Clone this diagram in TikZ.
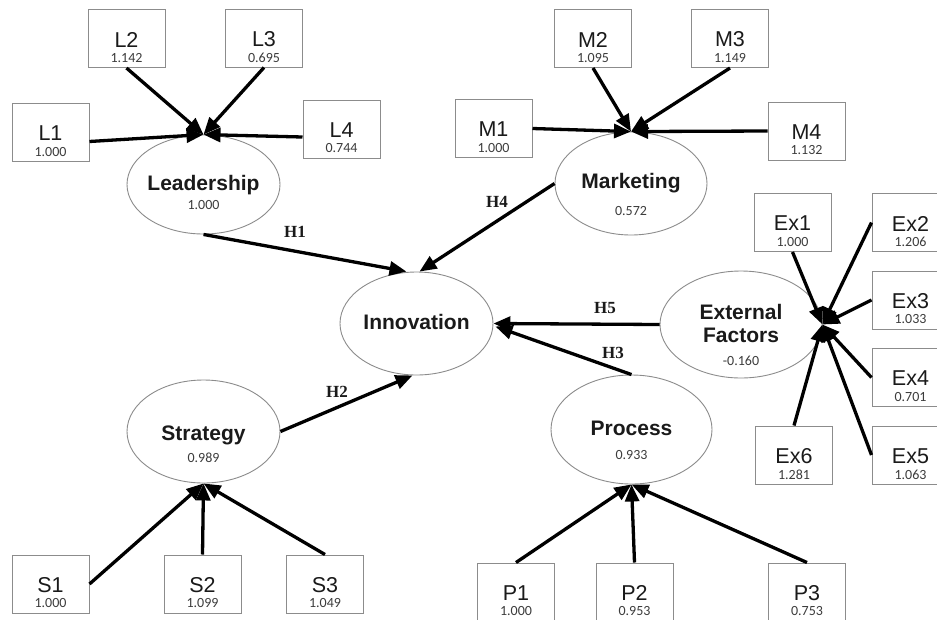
\documentclass[tikz,border=0pt]{standalone}
\usepackage{fontspec}
\setmainfont{Liberation Sans}
\newfontfamily\numfont{Carlito}
\newfontfamily\hypfont{Liberation Serif}
\usetikzlibrary{shapes.geometric,arrows.meta,calc}
\definecolor{frame}{HTML}{8C8C8C}
\definecolor{ink}{HTML}{1A1A1A}
\definecolor{numgray}{HTML}{3C3C3C}
\tikzset{
  ind/.style={draw=frame, line width=1pt, minimum width=77pt, minimum height=58pt, inner sep=0pt},
  lat/.style={ellipse, draw=frame, line width=0.9pt, inner sep=0pt},
  iname/.style={font=\fontsize{21.5}{24}\selectfont, text=ink, inner sep=0pt},
  lname/.style={font=\bfseries\fontsize{21}{24}\selectfont, text=ink, inner sep=0pt, anchor=base},
  val/.style={font=\numfont\fontsize{14}{16}\selectfont, text=numgray, inner sep=0pt},
  lval/.style={val, anchor=base},
  hyp/.style={font=\hypfont\bfseries\fontsize{17}{19}\selectfont, text=ink, inner sep=0pt},
  load/.style={line width=3.3pt, draw=black, -{Triangle[length=17pt,width=14pt]}},
}
% observed indicator: name, x, y, label, loading
\newcommand\indicator[5]{%
  \node[ind] (#1) at (#2,#3) {};
  \node[iname] (#1-n) at ($(#1.center)+(0,1)$) {#4};
  \node[val] (#1-v) at ($(#1.center)+(0,19.5)$) {#5};
}
\begin{document}
\begin{tikzpicture}[x=1pt,y=-1pt]
  \fill[white] (0,0) rectangle (937,619);
  \useasboundingbox (0,0) rectangle (937,619);
  \clip (0,0) rectangle (937,619);

  % latent constructs
  \node[lat, minimum width=153pt, minimum height=99pt]  (lead)  at (203.5,184.5) {};
  \node[lat, minimum width=152pt, minimum height=103pt] (mark)  at (631,183.5) {};
  \node[lat, minimum width=153pt, minimum height=103pt] (inno)  at (416.5,323.5) {};
  \node[lat, minimum width=162pt, minimum height=107pt] (ext)   at (741,324.5) {};
  \node[lat, minimum width=153pt, minimum height=103pt] (strat) at (203.5,431.5) {};
  \node[lat, minimum width=161pt, minimum height=109pt] (proc)  at (631.5,429.5) {};

  \node[lname] (lead-n)  at (203.5,190) {Leadership};
  \node[lval]  (lead-v)  at (203.5,209) {1.000};
  \node[lname] (mark-n)  at (631,188.5) {Marketing};
  \node[lval]  (mark-v)  at (631,215) {0.572};
  \node[lname] (inno-n)  at (416.5,329) {Innovation};
  \node[lname] (ext-n1)  at (741,319.5) {External};
  \node[lname] (ext-n2)  at (741,342) {Factors};
  \node[lval]  (ext-v)   at (741,365.5) {-0.160};
  \node[lname] (strat-n) at (203.5,440) {Strategy};
  \node[lval]  (strat-v) at (203.5,462) {0.989};
  \node[lname] (proc-n)  at (631.5,435) {Process};
  \node[lval]  (proc-v)  at (631.5,459.5) {0.933};

  % indicators
  \indicator{L1}{50.5}{132.5}{L1}{1.000}
  \indicator{L2}{126.5}{38.5}{L2}{1.142}
  \indicator{L3}{264}{38}{L3}{0.695}
  \indicator{L4}{341.5}{129}{L4}{0.744}

  \indicator{M1}{493.5}{128.5}{M1}{1.000}
  \indicator{M2}{593}{38.5}{M2}{1.095}
  \indicator{M3}{730}{38.5}{M3}{1.149}
  \indicator{M4}{806.5}{131}{M4}{1.132}

  \indicator{Ex1}{792.5}{222.5}{Ex1}{1.000}
  \indicator{Ex2}{910.5}{222.5}{Ex2}{1.206}
  \indicator{Ex3}{910.5}{300}{Ex3}{1.033}
  \indicator{Ex4}{910.5}{377.5}{Ex4}{0.701}
  \indicator{Ex5}{910.5}{455}{Ex5}{1.063}
  \indicator{Ex6}{794}{455}{Ex6}{1.281}

  \indicator{S1}{50.5}{584}{S1}{1.000}
  \indicator{S2}{202.5}{584}{S2}{1.099}
  \indicator{S3}{325}{584}{S3}{1.049}

  \indicator{P1}{516}{592}{P1}{1.000}
  \indicator{P2}{634.5}{592}{P2}{0.953}
  \indicator{P3}{807}{592}{P3}{0.753}

  % measurement paths
  \draw[load] ($(L1.east)+(0,9)$) -- (lead.north);
  \draw[load] (L2.south) -- (lead.north);
  \draw[load] (L3.south) -- (lead.north);
  \draw[load] ($(L4.west)+(0,8)$) -- (lead.north);

  \draw[load] (M1.east) -- (mark.north);
  \draw[load] (M2.south) -- (mark.north);
  \draw[load] (M3.south) -- (mark.north);
  \draw[load] (M4.west) -- (mark.north);

  \draw[load] (Ex1.south) -- (ext.east);
  \draw[load] (Ex2.west) -- (ext.east);
  \draw[load] (Ex3.west) -- (ext.east);
  \draw[load] (Ex4.west) -- (ext.east);
  \draw[load] (Ex5.west) -- (ext.east);
  \draw[load] (Ex6.north) -- (ext.east);

  \draw[load] (S1.east) -- (strat.south);
  \draw[load] (S2.north) -- (strat.south);
  \draw[load] (S3.north) -- (strat.south);

  \draw[load] (P1.north) -- (proc.south);
  \draw[load] (P2.north) -- (proc.south);
  \draw[load] (P3.north) -- (proc.south);

  % structural paths
  \draw[load] (lead.south) -- ($(inno.north)+(-10,0)$);
  \draw[load] (mark.west) -- ($(inno.north)+(3,0)$);
  \draw[load] (ext.west) -- (inno.east);
  \draw[load] (proc.north) -- ($(inno.east)+(2,3)$);
  \draw[load] (strat.east) -- ($(inno.south)+(-4,0)$);

  \node[hyp] (h1) at (295,232) {H1};
  \node[hyp] (h4) at (497,202) {H4};
  \node[hyp] (h5) at (605,308) {H5};
  \node[hyp] (h3) at (613,353) {H3};
  \node[hyp] (h2) at (337,392) {H2};
\end{tikzpicture}
\end{document}
